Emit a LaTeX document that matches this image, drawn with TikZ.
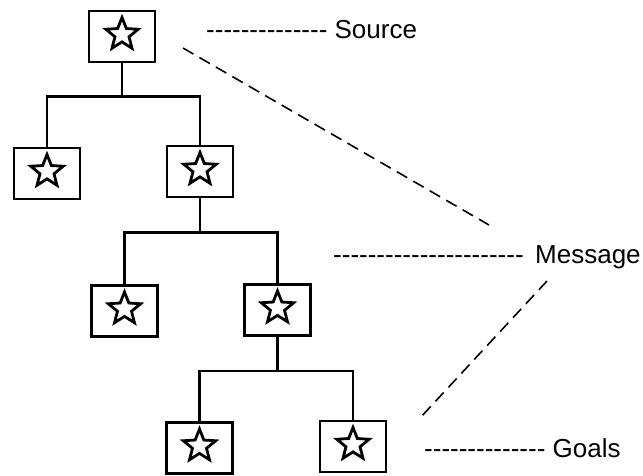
\documentclass[tikz,border=0pt]{standalone}
\usepackage{fontspec}
\setmainfont[Ligatures=TeXOff]{Liberation Sans}
\usetikzlibrary{shapes.geometric}

\begin{document}
\begin{tikzpicture}[
        x=1pt, y=-1pt,
        font=\fontsize{26}{31}\selectfont,
        starsym/.style={star, star points=5, star point ratio=2.3, draw, line width=2.8pt, minimum size=34pt, inner sep=0pt},
        box/.style={draw, line width=2.5pt, minimum width=66pt, minimum height=51pt, inner sep=0pt,
            path picture={\node[starsym] at ([yshift=2pt]path picture bounding box.center) {};}},
        edge/.style={line width=2.5pt},
        guide/.style={line width=1.6pt, dash pattern=on 12pt off 7pt},
        lbl/.style={anchor=base west, inner sep=0pt}
    ]
    \useasboundingbox (0,0) rectangle (643,475);

% --- Tree of boxes ---
        \node[box] (root) at (122,36.5) {};
        \node[box] (l1) at (47,173.5) {};
        \node[box] (r1) at (200,171.5) {};
        \node[box] (l2) at (124.5,311) {};
        \node[box] (r2) at (277.5,310) {};
        \node[box] (l3) at (199.5,448) {};
        \node[box] (r3) at (353,446.5) {};

% --- Branches ---
        \draw[edge] (root.south) -- ++(0,33) -| (l1.north);
        \draw[edge] (root.south) -- ++(0,33) -| (r1.north);
        \draw[edge] (r1.south) -- ++(0,34) -| (l2.north);
        \draw[edge] (r1.south) -- ++(0,34) -| (r2.north);
        \draw[edge] (r2.south) -- ++(0,34) -| (l3.north);
        \draw[edge] (r2.south) -- ++(0,34) -| (r3.north);

% --- Labels ---
        \node[lbl] (source) at (206,38) {-------------- Source};
        \node[lbl] (message) at (333,263) {----------------------\, Message};
        \node[lbl] (goals) at (424,457) {-------------- Goals};

% --- Long dashed guides ---
        \coordinate (s1) at (183,48);
        \coordinate (m1) at (489,225);
        \coordinate (m2) at (547,281);
        \coordinate (g1) at (420,418);
        \draw[guide] (s1) -- (m1);
        \draw[guide] (m2) -- (g1);

    \end{tikzpicture}
\end{document}
